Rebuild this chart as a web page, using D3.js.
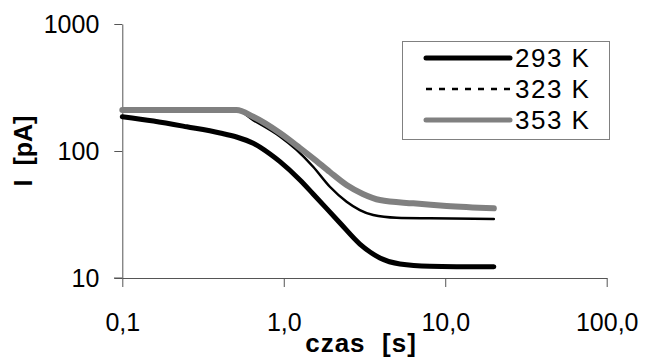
<!DOCTYPE html>
<html>
<head>
<meta charset="utf-8">
<script src="https://cdn.jsdelivr.net/npm/d3@7"></script>
<style>
  body { margin: 0; background: #fff; }
  text { font-family: "Liberation Sans", Arial, sans-serif; }
</style>
</head>
<body>
<div id="chart"></div>
<script>
// values (time in s, current in pA)
var t293 = [0.1, 0.156, 0.251, 0.403, 0.51, 0.647, 0.822, 0.947, 1.26, 1.52, 2.23, 2.96, 3.94, 5.24, 8.04, 20];
var i293 = [186, 172, 155, 138.6, 128.9, 115, 94.7, 82.4, 59.1, 45.9, 27.1, 18.5, 14.4, 12.9, 12.4, 12.25];

var t323 = [0.1, 0.51, 0.647, 0.947, 1.2, 1.52, 1.93, 2.45, 2.96, 3.58, 5.0, 8.04, 20];
var i323 = [210, 210, 175, 130, 102, 75.2, 52.3, 39.9, 34.3, 31.3, 29.8, 29.5, 29.2];

var t353 = [0.1, 0.51, 0.647, 0.947, 1.26, 1.52, 1.93, 2.45, 3.09, 3.94, 6.34, 10.2, 20];
var i353 = [210, 210, 186, 138.6, 105.5, 87.6, 68.3, 54, 45.9, 41.1, 38.7, 36.9, 35.4];

var seriesNames = ["293 K", "323 K", "353 K"];
var xTicks = [0.1, 1, 10, 100];
var xTickLabels = ["0,1", "1,0", "10,0", "100,0"];
var yTicks = [10, 100, 1000];
var yTickLabels = ["10", "100", "1000"];

var width = 646, height = 358;
var svg = d3.select("#chart").append("svg")
  .attr("width", width)
  .attr("height", height);

var x = d3.scaleLog().domain([0.1, 100]).range([122.3, 606.7]);
var y = d3.scaleLog().domain([10, 1000]).range([278, 24]);

// axes
var xAxis = svg.append("g")
  .attr("transform", "translate(0,278)")
  .call(d3.axisBottom(x)
    .tickValues(xTicks)
    .tickFormat(function(d, i) { return xTickLabels[i]; })
    .tickSize(9).tickSizeOuter(0).tickPadding(26));

var yAxis = svg.append("g")
  .attr("transform", "translate(122.3,0)")
  .call(d3.axisLeft(y)
    .tickValues(yTicks)
    .tickFormat(function(d, i) { return yTickLabels[i]; })
    .tickSize(8).tickSizeOuter(0).tickPadding(15));

[xAxis, yAxis].forEach(function(a) {
  a.select(".domain").attr("stroke", "#555").attr("stroke-width", 1);
  a.selectAll(".tick line").attr("stroke", "#555").attr("stroke-width", 1);
  a.selectAll(".tick text")
    .attr("fill", "#000")
    .style("font-size", "25px")
    .style("font-family", "'Liberation Sans', Arial, sans-serif");
});
// stretch x axis line left to the y tick
svg.append("line")
  .attr("x1", 114).attr("x2", 122.3)
  .attr("y1", 278).attr("y2", 278)
  .attr("stroke", "#555");

// axis titles
svg.append("text")
  .attr("x", 361).attr("y", 352)
  .attr("text-anchor", "middle")
  .style("font-size", "26px").style("font-weight", "bold")
  .style("letter-spacing", "1px")
  .style("white-space", "pre")
  .text("czas  [s]");

svg.append("text")
  .attr("transform", "translate(32,151) rotate(-90)")
  .attr("text-anchor", "middle")
  .style("font-size", "25px").style("font-weight", "bold")
  .style("white-space", "pre")
  .text("I  [pA]");

// lines
var line = d3.line()
  .x(function(d) { return x(d[0]); })
  .y(function(d) { return y(d[1]); })
  .curve(d3.curveMonotoneX);

var series = [
  { pts: d3.zip(t293, i293), color: "#000", w: 5 },
  { pts: d3.zip(t323, i323), color: "#000", w: 2.5 },
  { pts: d3.zip(t353, i353), color: "#808080", w: 6 }
];

series.forEach(function(s) {
  svg.append("path")
    .attr("d", line(s.pts))
    .attr("fill", "none")
    .attr("stroke", s.color)
    .attr("stroke-width", s.w)
    .attr("stroke-linecap", "round")
    .attr("stroke-linejoin", "round");
});

// legend
var legend = svg.append("g");
legend.append("rect")
  .attr("x", 402.5).attr("y", 41.5)
  .attr("width", 207).attr("height", 98)
  .attr("fill", "#fff")
  .attr("stroke", "#808080");

var legendStyles = [
  { color: "#000", w: 5, dash: null },
  { color: "#000", w: 2.5, dash: "6,7" },
  { color: "#808080", w: 5, dash: null }
];

seriesNames.forEach(function(name, i) {
  var ly = 58 + i * 31;
  legend.append("line")
    .attr("x1", 426).attr("x2", 510)
    .attr("y1", ly).attr("y2", ly)
    .attr("stroke", legendStyles[i].color)
    .attr("stroke-width", legendStyles[i].w)
    .attr("stroke-linecap", legendStyles[i].dash ? "butt" : "round")
    .attr("stroke-dasharray", legendStyles[i].dash);
  legend.append("text")
    .attr("x", 515).attr("y", ly + 9)
    .style("font-size", "26px")
    .style("letter-spacing", "1.5px")
    .text(name);
});
</script>
</body>
</html>
